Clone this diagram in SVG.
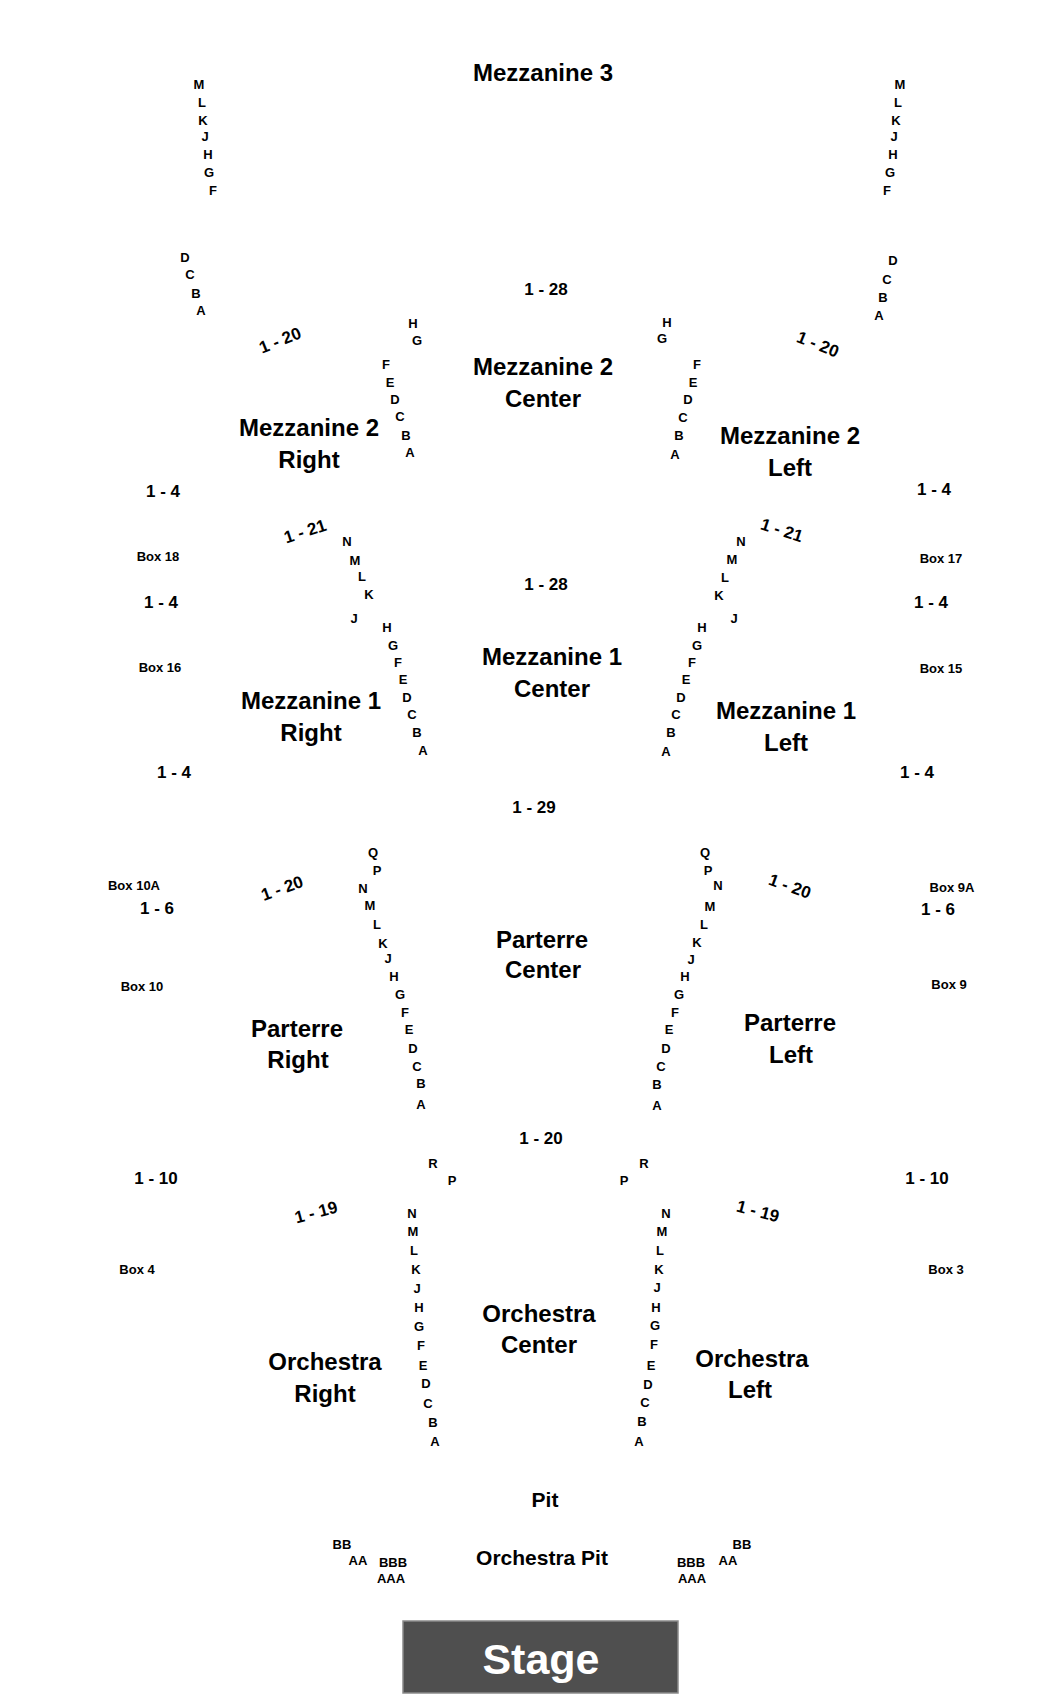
<svg xmlns="http://www.w3.org/2000/svg" width="1050" height="1700" viewBox="0 0 1050 1700">
<style>
text{font-family:"Liberation Sans",Arial,sans-serif;font-weight:bold;fill:#000;text-anchor:middle}
.t{font-size:24px}
.r{font-size:17px}
.l{font-size:13px}
.b{font-size:13px}
.p{font-size:21px}
.s{font-size:43px;fill:#fff}
</style>
<rect width="1050" height="1700" fill="#fff"/>
<g id="mezzanine3">
<text class="t" x="543" y="81">Mezzanine 3</text>
<text class="l" x="199" y="89">M</text><text class="l" x="202" y="107">L</text><text class="l" x="203" y="125">K</text><text class="l" x="205" y="141">J</text><text class="l" x="208" y="159">H</text><text class="l" x="209" y="177">G</text><text class="l" x="213" y="195">F</text>
<text class="l" x="185" y="262">D</text><text class="l" x="190" y="279">C</text><text class="l" x="196" y="298">B</text><text class="l" x="201" y="315">A</text>
<text class="l" x="900" y="89">M</text><text class="l" x="898" y="107">L</text><text class="l" x="896" y="125">K</text><text class="l" x="894" y="141">J</text><text class="l" x="893" y="159">H</text><text class="l" x="890" y="177">G</text><text class="l" x="887" y="195">F</text>
<text class="l" x="893" y="265">D</text><text class="l" x="887" y="284">C</text><text class="l" x="883" y="302">B</text><text class="l" x="879" y="320">A</text>
</g>
<g id="mezzanine2-center">
<text class="t" x="543" y="375">Mezzanine 2</text>
<text class="t" x="543" y="407">Center</text>
<text class="r" x="546" y="295">1 - 28</text>
</g>
<g id="mezzanine2-right">
<text class="t" x="309" y="436">Mezzanine 2</text>
<text class="t" x="309" y="468">Right</text>
<text class="r" transform="translate(280,340) rotate(-22)" y="6">1 - 20</text>
<text class="l" x="413" y="328">H</text><text class="l" x="417" y="345">G</text><text class="l" x="386" y="369">F</text><text class="l" x="390" y="387">E</text><text class="l" x="395" y="404">D</text><text class="l" x="400" y="421">C</text><text class="l" x="406" y="440">B</text><text class="l" x="410" y="457">A</text>
</g>
<g id="mezzanine2-left">
<text class="t" x="790" y="444">Mezzanine 2</text>
<text class="t" x="790" y="476">Left</text>
<text class="r" transform="translate(818,344) rotate(22)" y="6">1 - 20</text>
<text class="l" x="667" y="327">H</text><text class="l" x="662" y="343">G</text><text class="l" x="697" y="369">F</text><text class="l" x="693" y="387">E</text><text class="l" x="688" y="404">D</text><text class="l" x="683" y="422">C</text><text class="l" x="679" y="440">B</text><text class="l" x="675" y="459">A</text>
</g>
<g id="boxes-mezz">
<text class="r" x="163" y="497">1 - 4</text>
<text class="b" x="158" y="561">Box 18</text>
<text class="r" x="161" y="608">1 - 4</text>
<text class="b" x="160" y="672">Box 16</text>
<text class="r" x="174" y="778">1 - 4</text>
<text class="r" x="934" y="495">1 - 4</text>
<text class="b" x="941" y="563">Box 17</text>
<text class="r" x="931" y="608">1 - 4</text>
<text class="b" x="941" y="673">Box 15</text>
<text class="r" x="917" y="778">1 - 4</text>
</g>
<g id="mezzanine1-center">
<text class="t" x="552" y="665">Mezzanine 1</text>
<text class="t" x="552" y="697">Center</text>
<text class="r" x="546" y="590">1 - 28</text>
</g>
<g id="mezzanine1-right">
<text class="t" x="311" y="709">Mezzanine 1</text>
<text class="t" x="311" y="741">Right</text>
<text class="r" transform="translate(305,531) rotate(-18)" y="6">1 - 21</text>
<text class="l" x="347" y="546">N</text><text class="l" x="355" y="565">M</text><text class="l" x="362" y="581">L</text><text class="l" x="369" y="599">K</text><text class="l" x="354" y="623">J</text><text class="l" x="387" y="632">H</text><text class="l" x="393" y="650">G</text><text class="l" x="398" y="667">F</text><text class="l" x="403" y="684">E</text><text class="l" x="407" y="702">D</text><text class="l" x="412" y="719">C</text><text class="l" x="417" y="737">B</text><text class="l" x="423" y="755">A</text>
</g>
<g id="mezzanine1-left">
<text class="t" x="786" y="719">Mezzanine 1</text>
<text class="t" x="786" y="751">Left</text>
<text class="r" transform="translate(782,530) rotate(18)" y="6">1 - 21</text>
<text class="l" x="741" y="546">N</text><text class="l" x="732" y="564">M</text><text class="l" x="725" y="582">L</text><text class="l" x="719" y="600">K</text><text class="l" x="734" y="623">J</text><text class="l" x="702" y="632">H</text><text class="l" x="697" y="650">G</text><text class="l" x="692" y="667">F</text><text class="l" x="686" y="684">E</text><text class="l" x="681" y="702">D</text><text class="l" x="676" y="719">C</text><text class="l" x="671" y="737">B</text><text class="l" x="666" y="756">A</text>
</g>
<g id="parterre-center">
<text class="r" x="534" y="813">1 - 29</text>
<text class="t" x="542" y="948">Parterre</text>
<text class="t" x="543" y="978">Center</text>
</g>
<g id="parterre-right">
<text class="t" x="297" y="1037">Parterre</text>
<text class="t" x="298" y="1068">Right</text>
<text class="r" transform="translate(282,888) rotate(-20)" y="6">1 - 20</text>
<text class="l" x="373" y="857">Q</text><text class="l" x="377" y="875">P</text><text class="l" x="363" y="893">N</text><text class="l" x="370" y="910">M</text><text class="l" x="377" y="929">L</text><text class="l" x="383" y="948">K</text><text class="l" x="388" y="963">J</text><text class="l" x="394" y="981">H</text><text class="l" x="400" y="999">G</text><text class="l" x="405" y="1017">F</text><text class="l" x="409" y="1034">E</text><text class="l" x="413" y="1053">D</text><text class="l" x="417" y="1071">C</text><text class="l" x="421" y="1088">B</text><text class="l" x="421" y="1109">A</text>
</g>
<g id="parterre-left">
<text class="t" x="790" y="1031">Parterre</text>
<text class="t" x="791" y="1063">Left</text>
<text class="r" transform="translate(790,886) rotate(20)" y="6">1 - 20</text>
<text class="l" x="705" y="857">Q</text><text class="l" x="708" y="875">P</text><text class="l" x="718" y="890">N</text><text class="l" x="710" y="911">M</text><text class="l" x="704" y="929">L</text><text class="l" x="697" y="947">K</text><text class="l" x="691" y="964">J</text><text class="l" x="685" y="981">H</text><text class="l" x="679" y="999">G</text><text class="l" x="675" y="1017">F</text><text class="l" x="669" y="1034">E</text><text class="l" x="666" y="1053">D</text><text class="l" x="661" y="1071">C</text><text class="l" x="657" y="1089">B</text><text class="l" x="657" y="1110">A</text>
</g>
<g id="boxes-parterre">
<text class="b" x="134" y="890">Box 10A</text>
<text class="r" x="157" y="914">1 - 6</text>
<text class="b" x="142" y="991">Box 10</text>
<text class="b" x="952" y="892">Box 9A</text>
<text class="r" x="938" y="915">1 - 6</text>
<text class="b" x="949" y="989">Box 9</text>
</g>
<g id="orchestra-center">
<text class="r" x="541" y="1144">1 - 20</text>
<text class="t" x="539" y="1322">Orchestra</text>
<text class="t" x="539" y="1353">Center</text>
</g>
<g id="orchestra-right">
<text class="t" x="325" y="1370">Orchestra</text>
<text class="t" x="325" y="1402">Right</text>
<text class="r" transform="translate(316,1212) rotate(-15)" y="6">1 - 19</text>
<text class="l" x="433" y="1168">R</text><text class="l" x="452" y="1185">P</text>
<text class="l" x="412" y="1218">N</text><text class="l" x="413" y="1236">M</text><text class="l" x="414" y="1255">L</text><text class="l" x="416" y="1274">K</text><text class="l" x="417" y="1293">J</text><text class="l" x="419" y="1312">H</text><text class="l" x="419" y="1331">G</text><text class="l" x="421" y="1350">F</text><text class="l" x="423" y="1370">E</text><text class="l" x="426" y="1388">D</text><text class="l" x="428" y="1408">C</text><text class="l" x="433" y="1427">B</text><text class="l" x="435" y="1446">A</text>
</g>
<g id="orchestra-left">
<text class="t" x="752" y="1367">Orchestra</text>
<text class="t" x="750" y="1398">Left</text>
<text class="r" transform="translate(758,1211) rotate(15)" y="6">1 - 19</text>
<text class="l" x="644" y="1168">R</text><text class="l" x="624" y="1185">P</text>
<text class="l" x="666" y="1218">N</text><text class="l" x="662" y="1236">M</text><text class="l" x="660" y="1255">L</text><text class="l" x="659" y="1274">K</text><text class="l" x="657" y="1292">J</text><text class="l" x="656" y="1312">H</text><text class="l" x="655" y="1330">G</text><text class="l" x="654" y="1349">F</text><text class="l" x="651" y="1370">E</text><text class="l" x="648" y="1389">D</text><text class="l" x="645" y="1407">C</text><text class="l" x="642" y="1426">B</text><text class="l" x="639" y="1446">A</text>
</g>
<g id="boxes-orchestra">
<text class="r" x="156" y="1184">1 - 10</text>
<text class="b" x="137" y="1274">Box 4</text>
<text class="r" x="927" y="1184">1 - 10</text>
<text class="b" x="946" y="1274">Box 3</text>
</g>
<g id="pit">
<text class="p" x="545" y="1507">Pit</text>
<text class="p" x="542" y="1565">Orchestra Pit</text>
<text class="l" x="342" y="1549">BB</text><text class="l" x="358" y="1565">AA</text><text class="l" x="393" y="1567">BBB</text><text class="l" x="391" y="1583">AAA</text>
<text class="l" x="691" y="1567">BBB</text><text class="l" x="692" y="1583">AAA</text><text class="l" x="728" y="1565">AA</text><text class="l" x="742" y="1549">BB</text>
</g>
<g id="stage">
<rect x="403" y="1621" width="275" height="72" fill="#4f4f4f" stroke="#8a8a8a" stroke-width="1.5"/>
<text class="s" x="541" y="1674">Stage</text>
</g>
</svg>
